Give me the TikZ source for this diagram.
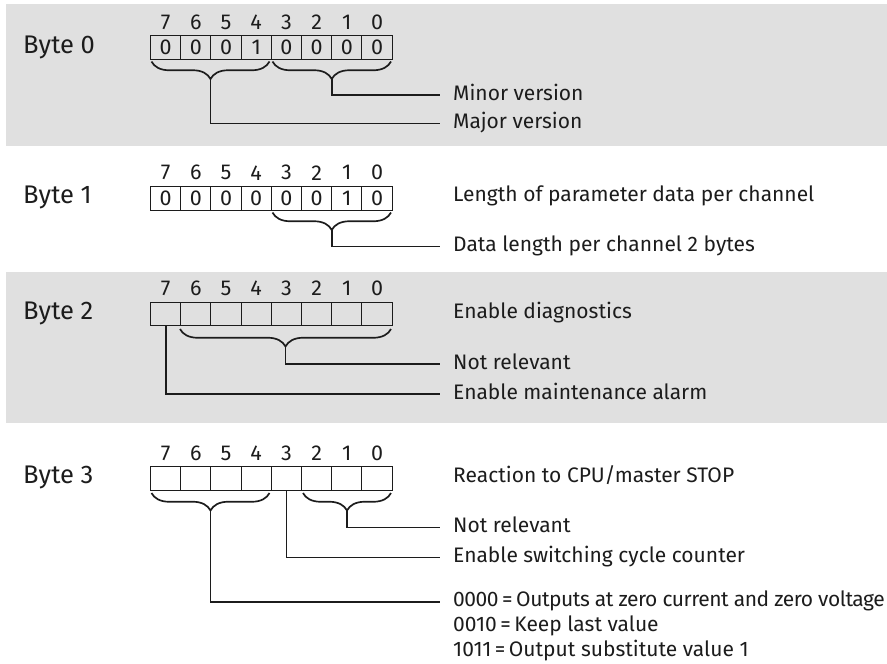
\documentclass[tikz,border=0pt]{standalone}
\usepackage{fontspec}
\setmainfont{Fira Sans}
\usetikzlibrary{decorations.pathreplacing}
\definecolor{band}{RGB}{224,224,224}
\definecolor{ink}{RGB}{28,28,28}
\begin{document}
\begin{tikzpicture}[x=1pt,y=-1pt,
  txt/.style={font=\fontsize{21}{25}\selectfont, text=ink, inner sep=0pt},
  cell/.style={draw=ink, line width=1pt, minimum width=30.2pt, minimum height=23.5pt, inner sep=0pt, font=\fontsize{21.5}{22}\selectfont, text=ink},
  bitnum/.style={font=\fontsize{21.5}{22}\selectfont, text=ink, inner sep=0pt},
  bytelabel/.style={font=\fontsize{25.5}{28}\selectfont, text=ink, inner sep=0pt, anchor=west},
  desc/.style={txt, anchor=base west},
  bracebig/.style={draw=ink, line width=1.7pt, decorate, decoration={brace, amplitude=17.5pt}},
  conn/.style={draw=ink, line width=1.8pt}]
\useasboundingbox (0,0) rectangle (887,664);
\fill[band] (6,4) rectangle (887,146);
\fill[band] (6,272) rectangle (887,423);

% ---------- cells ----------
\foreach \bytename/\yc/\vals in {b0/47.5/{0,0,0,1,0,0,0,0}, b1/198.3/{0,0,0,0,0,0,1,0}, b2/314/{,,,,,,,}, b3/478.7/{,,,,,,,}}{
  \foreach \v [count=\i from 0] in \vals {
    \pgfmathtruncatemacro{\bit}{7-\i}
    \node[cell] (\bytename c\bit) at ({150.5+15.1+30.2*\i},\yc) {\v};
    \node[bitnum] (\bytename n\bit) at ({150.5+15.1+30.2*\i},{\yc-25.5}) {\bit};
  }
}
% empty cells for bytes 2 and 3 (ensure drawn)
\foreach \bytename/\yc in {b2/314, b3/478.7}{
  \foreach \i in {0,...,7}{
    \pgfmathtruncatemacro{\bit}{7-\i}
    \node[cell] (\bytename e\bit) at ({150.5+15.1+30.2*\i},\yc) {};
  }
}

% ---------- byte labels ----------
\node[bytelabel] (lb0) at (23,47) {Byte 0};
\node[bytelabel] (lb1) at (23,197) {Byte 1};
\node[bytelabel] (lb2) at (23,313) {Byte 2};
\node[bytelabel] (lb3) at (23,477) {Byte 3};

% ---------- descriptions ----------
\node[desc] (t0a) at (453,100) {Minor version};
\node[desc] (t0b) at (453,128.5) {Major version};
\node[desc] (t1a) at (453,201.5) {Length of parameter data per channel};
\node[desc] (t1b) at (453,251.5) {Data length per channel 2 bytes};
\node[desc] (t2a) at (453,318.5) {Enable diagnostics};
\node[desc] (t2b) at (453,369) {Not relevant};
\node[desc] (t2c) at (453,399) {Enable maintenance alarm};
\node[desc] (t3a) at (453,482) {Reaction to CPU/master STOP};
\node[desc] (t3b) at (453,532.5) {Not relevant};
\node[desc] (t3c) at (453,562.5) {Enable switching cycle counter};
\node[desc] (t3d) at (453,606.7) {\addfontfeature{LetterSpace=-2.2}0000\,=\,Outputs at zero current and zero voltage};
\node[desc] (t3e) at (453,631.7) {0010\,=\,Keep last value};
\node[desc] (t3f) at (453,656.7) {1011\,=\,Output substitute value 1};

% ---------- braces ----------
\draw[bracebig] (269.5,61.5) -- (151.5,61.5);
\draw[bracebig] (391,61.5) -- (272.5,61.5);
\draw[bracebig] (391,212.5) -- (272.5,212.5);
\draw[bracebig] (391,329) -- (180,329);
\draw[bracebig] (269.5,493) -- (151.5,493);
\draw[bracebig] (391,493) -- (303,493);

% brace tips and line ends
\coordinate (k0a) at (331.7,79);   \coordinate (e0a) at (440,95);
\coordinate (k0b) at (210.5,79);   \coordinate (e0b) at (440,123.5);
\coordinate (k1a) at (331.7,230);  \coordinate (e1a) at (440,246.5);
\coordinate (k2a) at (285.5,346.5);\coordinate (e2a) at (440,364);
\coordinate (e2b) at (440,394);
\coordinate (k3a) at (347,510.5);  \coordinate (e3a) at (440,527.5);
\coordinate (e3b) at (440,557.5);
\coordinate (k3c) at (210.5,510.5);\coordinate (e3c) at (440,601.7);

% ---------- connectors ----------
\draw[conn] (k0a) |- (e0a);
\draw[conn] (k0b) |- (e0b);
\draw[conn] (k1a) |- (e1a);
\draw[conn] (k2a) |- (e2a);
\draw[conn] (b2e7.south) |- (e2b);
\draw[conn] (k3a) |- (e3a);
\draw[conn] (b3e3.south) |- (e3b);
\draw[conn] (k3c) |- (e3c);
\end{tikzpicture}
\end{document}
